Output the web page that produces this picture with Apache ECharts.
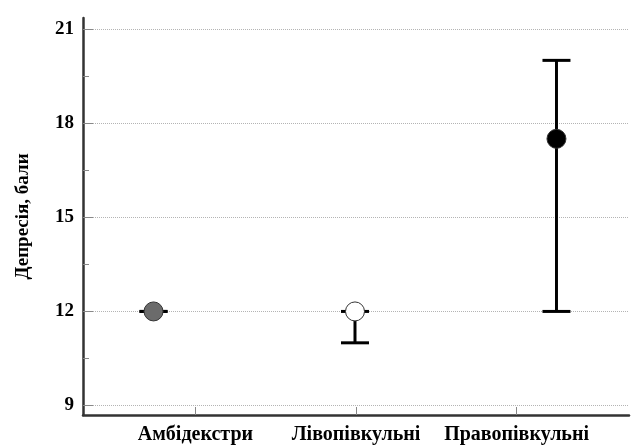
<!DOCTYPE html>
<html>
<head>
<meta charset="utf-8">
<script src="https://cdn.jsdelivr.net/npm/echarts@6/dist/echarts.min.js"></script>
<style>
  html, body { margin: 0; padding: 0; background: #fff; }
  #chart { width: 631px; height: 445px; }
</style>
</head>
<body>
<div id="chart"></div>
<script>
const groups = ['Амбідекстри', 'Лівопівкульні', 'Правопівкульні'];
const means = [12, 12, 17.5];
const lows = [12, 11, 12];
const highs = [12, 12, 20];
const pointColors = ['#6b6b6b', '#ffffff', '#000000'];
const majorTicks = [9, 12, 15, 18, 21];
const minorTicks = [10.5, 13.5, 16.5, 19.5];

const font = '"Liberation Serif", "DejaVu Serif", serif';

const chart = echarts.init(document.getElementById('chart'));

const option = {
  animation: false,
  grid: { left: 83, right: 2, top: 18, bottom: 29 },
  xAxis: [
    {
      type: 'value',
      min: -0.7,
      max: 2.7,
      position: 'bottom',
      axisLine: { onZero: false, lineStyle: { color: '#333', width: 2.5 } },
      axisTick: { inside: true, length: 8, customValues: [0, 1, 2], lineStyle: { color: '#888' } },
      axisLabel: {
        customValues: [0, 1, 2],
        formatter: (v) => groups[v],
        fontFamily: font,
        fontWeight: 'bold',
        fontSize: 20,
        color: '#000',
        margin: 10,
      },
      splitLine: { show: false },
    },
    {
      type: 'value',
      min: -0.35,
      max: 2.36,
      show: false,
    },
  ],
  yAxis: [
    {
      type: 'value',
      min: 8.7,
      max: 21.35,
      name: 'Депресія, бали',
      nameLocation: 'middle',
      nameGap: 50,
      nameTextStyle: { fontFamily: font, fontWeight: 'bold', fontSize: 19, color: '#000' },
      axisLine: { show: true, onZero: false, lineStyle: { color: '#333', width: 2.5 } },
      axisTick: { inside: true, length: 10, customValues: majorTicks, lineStyle: { color: '#888' } },
      axisLabel: {
        customValues: majorTicks,
        fontFamily: font,
        fontWeight: 'bold',
        fontSize: 19,
        color: '#000',
        margin: 9,
      },
      splitLine: { show: true, lineStyle: { color: '#b4b4b4', type: [1, 1], width: 1 } },
    },
    {
      type: 'value',
      min: 8.7,
      max: 21.35,
      position: 'left',
      axisLine: { show: false, onZero: false },
      axisTick: { show: true, inside: true, length: 6, customValues: minorTicks, lineStyle: { color: '#888' } },
      axisLabel: { show: false },
      splitLine: { show: false },
    },
  ],
  series: [
    {
      type: 'custom',
      xAxisIndex: 1,
      yAxisIndex: 0,
      z: 3,
      data: groups.map((g, i) => [i, lows[i], highs[i]]),
      renderItem: (params, api) => {
        const x = api.value(0);
        const top = api.coord([x, api.value(2)]);
        const bottom = api.coord([x, api.value(1)]);
        const half = 14;
        const style = { stroke: '#000', lineWidth: 3 };
        return {
          type: 'group',
          children: [
            { type: 'line', shape: { x1: top[0], y1: top[1], x2: bottom[0], y2: bottom[1] }, style },
            { type: 'line', shape: { x1: top[0] - half, y1: top[1], x2: top[0] + half, y2: top[1] }, style },
            { type: 'line', shape: { x1: bottom[0] - half, y1: bottom[1], x2: bottom[0] + half, y2: bottom[1] }, style },
          ],
        };
      },
    },
    {
      type: 'scatter',
      xAxisIndex: 1,
      yAxisIndex: 0,
      z: 4,
      symbolSize: 19,
      data: means.map((m, i) => ({
        value: [i, m],
        itemStyle: { color: pointColors[i], borderColor: '#333', borderWidth: 1, opacity: 1 },
      })),
    },
  ],
};

chart.setOption(option);
</script>
</body>
</html>
